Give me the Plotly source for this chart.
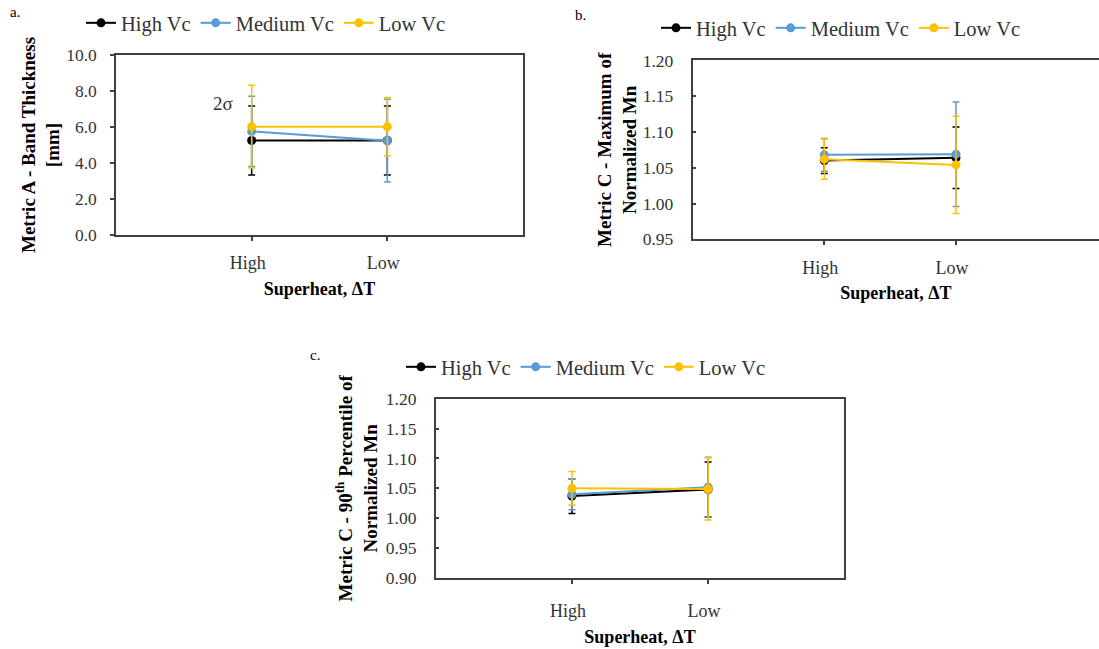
import plotly.graph_objects as go

# ---------------- data ----------------
categories = ["High", "Low"]
series_names = ["High Vc", "Medium Vc", "Low Vc"]

# Panel a: Metric A - Band Thickness [mm]
a_high_vc = [5.25, 5.25]
a_high_vc_err = [1.92, 1.92]
a_med_vc = [5.76, 5.24]
a_med_vc_err = [1.95, 2.30]
a_low_vc = [6.02, 6.02]
a_low_vc_err = [2.30, 1.62]

# Panel b: Metric C - Maximum of Normalized Mn
b_high_vc = [1.060, 1.064]
b_high_vc_err = [0.018, 0.043]
b_med_vc = [1.068, 1.069]
b_med_vc_err = [0.023, 0.073]
b_low_vc = [1.062, 1.054]
b_low_vc_err = [0.028, 0.068]

# Panel c: Metric C - 90th Percentile of Normalized Mn
c_high_vc = [1.037, 1.048]
c_high_vc_err = [0.029, 0.046]
c_med_vc = [1.040, 1.052]
c_med_vc_err = [0.026, 0.050]
c_low_vc = [1.050, 1.049]
c_low_vc_err = [0.028, 0.052]

# ---------------- style ----------------
colors = ["#000000", "#5B9BD5", "#FFC000"]
FONT = "Liberation Serif"
AX = "#404040"

fig = go.Figure()

panels = [
    ("x", "y", "legend", [(a_high_vc, a_high_vc_err), (a_med_vc, a_med_vc_err), (a_low_vc, a_low_vc_err)]),
    ("x2", "y2", "legend2", [(b_high_vc, b_high_vc_err), (b_med_vc, b_med_vc_err), (b_low_vc, b_low_vc_err)]),
    ("x3", "y3", "legend3", [(c_high_vc, c_high_vc_err), (c_med_vc, c_med_vc_err), (c_low_vc, c_low_vc_err)]),
]

for xa, ya, lg, series in panels:
    for name, col, (vals, errs) in zip(series_names, colors, series):
        fig.add_trace(go.Scatter(
            x=categories, y=vals, name=name, xaxis=xa, yaxis=ya, legend=lg,
            mode="lines+markers",
            line=dict(color=col, width=2),
            marker=dict(color=col, size=9),
            error_y=dict(type="data", array=errs, visible=True, color=col,
                         thickness=1.5, width=3.5),
        ))

def xaxis(domain, rng, lbl_standoff=7, mirror=True):
    return dict(
        domain=domain, type="category", categoryorder="array",
        categoryarray=categories, range=rng, showline=True, linecolor=AX,
        linewidth=1.5, mirror=mirror, ticks="outside", ticklen=4, tickwidth=1.5,
        tickcolor=AX, showgrid=False, zeroline=False, ticklabelstandoff=lbl_standoff,
        ticklabelshift=-4,
        tickfont=dict(family=FONT, size=18, color="#333333"),
        title=dict(text="<b>Superheat, ΔT</b>", standoff=10,
                   font=dict(family=FONT, size=18, color="#000000")),
        automargin=False,
    )

def yaxis(domain, rng, dtick, fmt, title, ticks, standoff_lbl, title_standoff, mirror=True):
    return dict(
        domain=domain, range=rng, dtick=dtick, tick0=0, tickformat=fmt,
        showline=True, linecolor=AX, linewidth=1.5, mirror=mirror,
        ticks=ticks, ticklen=4, tickwidth=1.5, tickcolor=AX,
        showgrid=False, zeroline=False, ticklabelstandoff=standoff_lbl,
        tickfont=dict(family=FONT, size=17.5, color="#333333"),
        title=dict(text=title, standoff=title_standoff,
                   font=dict(family=FONT, size=19, color="#000000")),
        automargin=False,
    )

W, H = 1099, 649
def fx(px):
    return px / W
def fy(py):
    return 1 - py / H

LEGFONT = dict(family=FONT, size=20.5, color="#333333")

fig.update_layout(
    width=W, height=H,
    margin=dict(l=0, r=0, t=0, b=0),
    paper_bgcolor="white", plot_bgcolor="white",
    xaxis=dict(xaxis((fx(116), fx(523)), [-1, 2]), anchor="y"),
    yaxis=dict(yaxis((fy(235), fy(55)), [0, 10], 2, ".1f",
                     "<b>Metric A - Band Thickness<br>[mm]</b>", "outside", 10, 1), anchor="x"),
    xaxis2=dict(xaxis((fx(692.6), 1.0), [-1, 2.086]), anchor="y2"),
    yaxis2=dict(yaxis((fy(239.3), fy(60.4)), [0.95, 1.20], 0.05, ".2f",
                      "<b>Metric C - Maximum of<br>Normalized Mn</b>", "inside", 14, 1, mirror=False), anchor="x2"),
    xaxis3=dict(xaxis((fx(435.7), fx(844.3)), [-1, 2], lbl_standoff=12), anchor="y3"),
    yaxis3=dict(yaxis((fy(578), fy(398.7)), [0.90, 1.20], 0.05, ".2f",
                      "<b>Metric C - 90<sup>th</sup> Percentile of<br>Normalized Mn</b>", "inside", 14, 3), anchor="x3"),
    legend=dict(orientation="h", x=fx(81), y=fy(23), xanchor="left", yanchor="middle",
                font=LEGFONT, bgcolor="rgba(0,0,0,0)"),
    legend2=dict(orientation="h", x=fx(656), y=fy(28), xanchor="left", yanchor="middle",
                 font=LEGFONT, bgcolor="rgba(0,0,0,0)"),
    legend3=dict(orientation="h", x=fx(401), y=fy(367), xanchor="left", yanchor="middle",
                 font=LEGFONT, bgcolor="rgba(0,0,0,0)"),
    annotations=[
        dict(text="a.", x=fx(8), y=fy(12), xref="paper", yref="paper", showarrow=False,
             xanchor="left", yanchor="middle", font=dict(family=FONT, size=15, color="#000000")),
        dict(text="b.", x=fx(573), y=fy(15), xref="paper", yref="paper", showarrow=False,
             xanchor="left", yanchor="middle", font=dict(family=FONT, size=15, color="#000000")),
        dict(text="c.", x=fx(308), y=fy(355), xref="paper", yref="paper", showarrow=False,
             xanchor="left", yanchor="middle", font=dict(family=FONT, size=15, color="#000000")),
        dict(text="2σ", x=-0.21, y=7.28, xref="x", yref="y", showarrow=False,
             font=dict(family=FONT, size=19, color="#333333")),
    ],
)

fig.write_html("out.html")
